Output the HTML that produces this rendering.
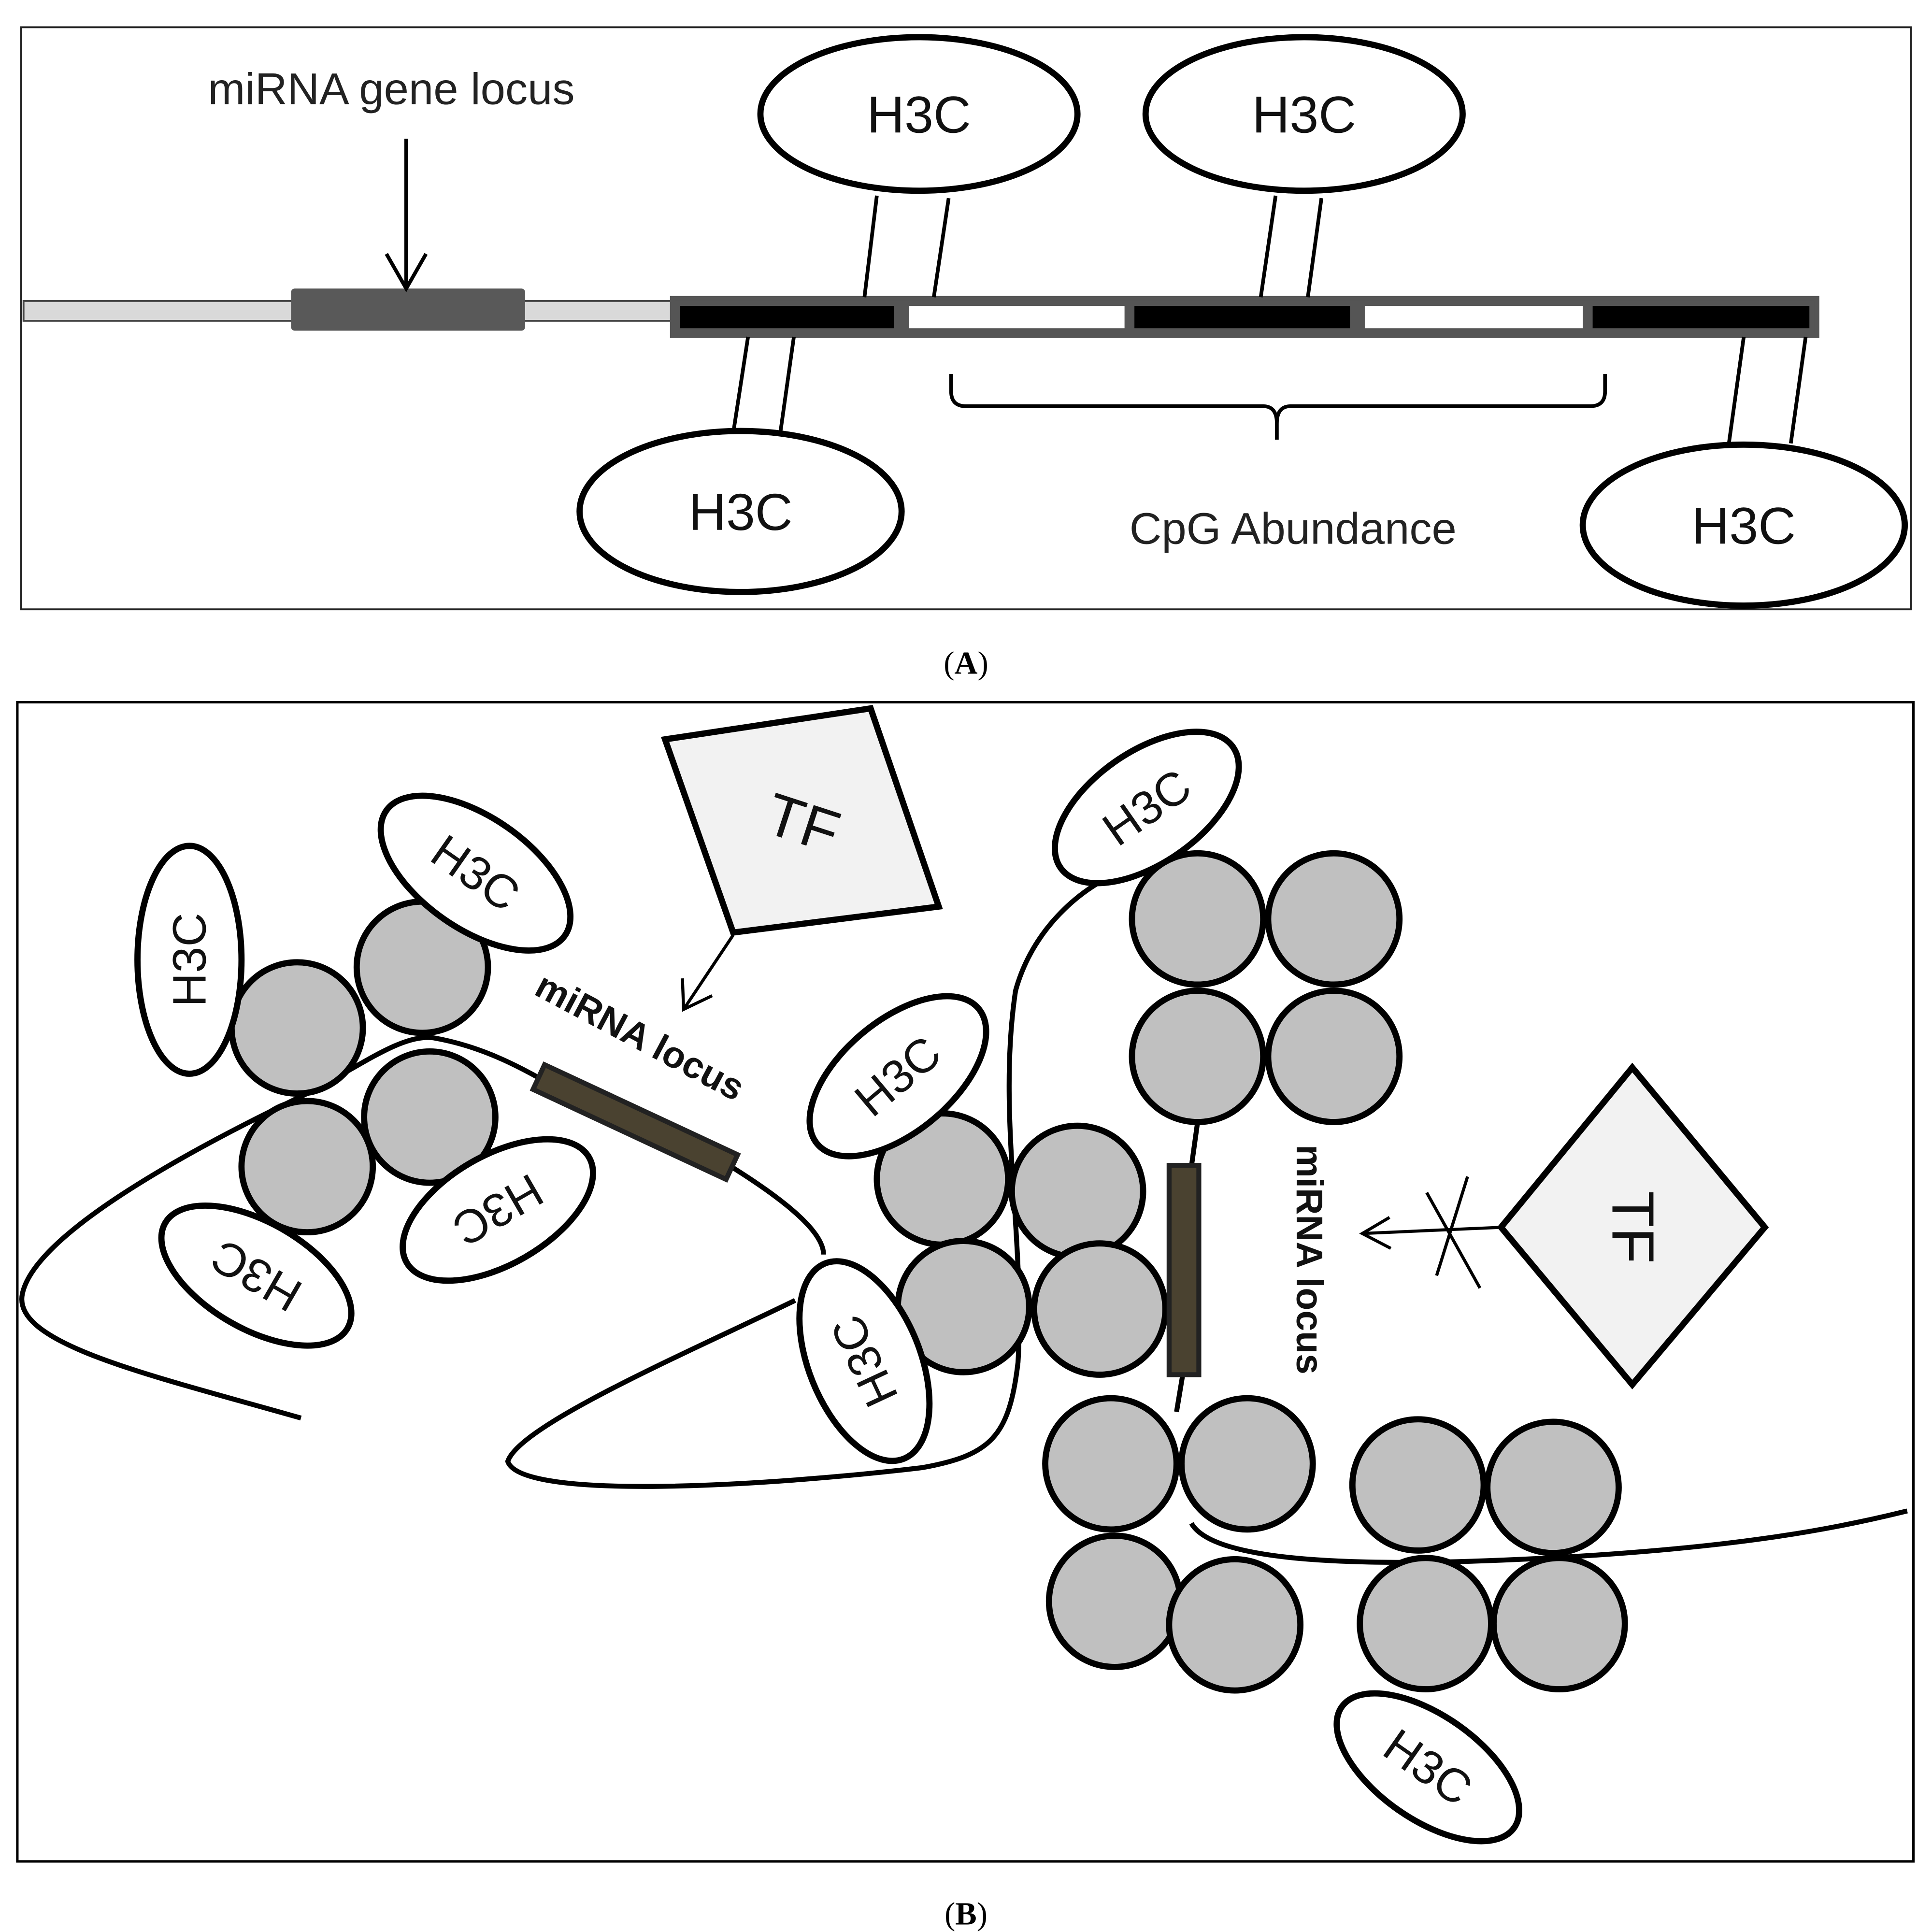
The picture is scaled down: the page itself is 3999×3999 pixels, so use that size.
<!DOCTYPE html>
<html><head><meta charset="utf-8"><style>
html,body{margin:0;padding:0;background:#fff;}
svg{display:block;}
text{font-family:"Liberation Sans",sans-serif;}
</style></head><body>
<svg width="3999" height="3999" viewBox="0 0 1560 1560" xmlns="http://www.w3.org/2000/svg">
<rect width="1560" height="1560" fill="#fff"/>
<!-- Panel A -->
<rect x="17" y="22" width="1526" height="470" fill="none" stroke="#222" stroke-width="1.5"/>
<rect x="19" y="243" width="526" height="16" fill="#d9d9d9" stroke="#444" stroke-width="1.5"/>
<rect x="235" y="233" width="189" height="34" rx="3" fill="#595959"/>
<line x1="328" y1="112" x2="328" y2="232" stroke="#000" stroke-width="3"/>
<polyline points="312,205 328,233 344,205" fill="none" stroke="#000" stroke-width="3"/>
<text x="316" y="84" font-size="36" text-anchor="middle" fill="#222">miRNA gene locus</text>
<rect x="543" y="241" width="924" height="30" fill="#555" stroke="#555" stroke-width="4"/>
<rect x="549" y="247" width="173" height="18" fill="#000"/>
<rect x="734" y="247" width="174" height="18" fill="#fff"/>
<rect x="916" y="247" width="174" height="18" fill="#000"/>
<rect x="1102" y="247" width="176" height="18" fill="#fff"/>
<rect x="1286" y="247" width="175" height="18" fill="#000"/>
<g stroke="#000" stroke-width="3">
<line x1="708" y1="158" x2="698" y2="240"/><line x1="766" y1="160" x2="754" y2="240"/>
<line x1="1030" y1="158" x2="1018" y2="240"/><line x1="1067" y1="160" x2="1056" y2="240"/>
<line x1="604" y1="272" x2="592" y2="350"/><line x1="641" y1="272" x2="630" y2="350"/>
<line x1="1408" y1="272" x2="1396" y2="358"/><line x1="1458" y1="272" x2="1446" y2="358"/>
</g>
<g fill="#fff" stroke="#000" stroke-width="5">
<ellipse cx="742" cy="92" rx="128" ry="62"/>
<ellipse cx="1053" cy="92" rx="128" ry="62"/>
<ellipse cx="598" cy="413" rx="130" ry="65"/>
<ellipse cx="1408" cy="424" rx="130" ry="65"/>
</g>
<g font-size="42" text-anchor="middle" fill="#111">
<text x="742" y="107">H3C</text><text x="1053" y="107">H3C</text>
<text x="598" y="428">H3C</text><text x="1408" y="439">H3C</text>
</g>
<path d="M768,302 V316 Q768,328 780,328 H1020 Q1031,328 1031,342 V355 M1031,342 Q1031,328 1042,328 H1284 Q1296,328 1296,316 V302" fill="none" stroke="#000" stroke-width="3"/>
<text x="1044" y="439" font-size="36" text-anchor="middle" fill="#222">CpG Abundance</text>
<text x="780" y="544" font-size="26" text-anchor="middle" style="font-family:'Liberation Serif',serif">(<tspan font-weight="bold">A</tspan>)</text>

<!-- Panel B -->
<rect x="14" y="567" width="1531" height="936" fill="none" stroke="#000" stroke-width="2"/>
<text x="780" y="1554" font-size="26" text-anchor="middle" style="font-family:'Liberation Serif',serif">(<tspan font-weight="bold">B</tspan>)</text>
<g fill="none" stroke="#000" stroke-width="4">
<path d="M243,1145 C120,1110 10,1085 18,1045 C28,995 160,925 250,882 C295,858 325,835 350,838 C390,845 420,862 440,873"/>
<path d="M592,943 C635,970 665,995 665,1013"/>
<path d="M642,1050 C560,1090 420,1150 410,1180 C420,1212 620,1200 745,1185 C800,1175 815,1160 822,1100 C828,1000 805,900 820,800 C835,745 880,712 910,702"/>
<path d="M967,906 L962,942 M955,1110 L950,1140"/>
<path d="M962,1230 C980,1262 1100,1266 1250,1258 C1400,1250 1480,1235 1540,1220"/>
</g>
<g fill="#c0c0c0" stroke="#000" stroke-width="5">
<circle cx="341" cy="781" r="53"/><circle cx="240" cy="830" r="53"/><circle cx="347" cy="902" r="53"/><circle cx="248" cy="942" r="53"/>
<circle cx="967" cy="742" r="53"/><circle cx="1077" cy="742" r="53"/><circle cx="967" cy="853" r="53"/><circle cx="1077" cy="853" r="53"/>
<circle cx="761" cy="952" r="53"/><circle cx="870" cy="962" r="53"/><circle cx="778" cy="1055" r="53"/><circle cx="888" cy="1057" r="53"/>
<circle cx="897" cy="1182" r="53"/><circle cx="1007" cy="1182" r="53"/><circle cx="900" cy="1293" r="53"/><circle cx="997" cy="1312" r="53"/>
<circle cx="1145" cy="1199" r="53"/><circle cx="1254" cy="1201" r="53"/><circle cx="1151" cy="1311" r="53"/><circle cx="1259" cy="1311" r="53"/>
</g>
<g fill="#fff" stroke="#000" stroke-width="5">
<ellipse cx="153" cy="775" rx="42" ry="92"/>
<ellipse transform="rotate(35 384 705)" cx="384" cy="705" rx="88" ry="45"/>
<ellipse transform="rotate(-30 402 977)" cx="402" cy="977" rx="85" ry="44"/>
<ellipse transform="rotate(30 207 1030)" cx="207" cy="1030" rx="85" ry="43"/>
<ellipse transform="rotate(-35 926 652)" cx="926" cy="652" rx="85" ry="45"/>
<ellipse transform="rotate(-40 725 869)" cx="725" cy="869" rx="85" ry="45"/>
<ellipse transform="rotate(-22 698 1099)" cx="698" cy="1099" rx="45" ry="85"/>
<ellipse transform="rotate(35 1153 1427)" cx="1153" cy="1427" rx="85" ry="42"/>
</g>
<g font-size="38" text-anchor="middle" fill="#111">
<text transform="translate(153,775) rotate(-90)" y="13">H3C</text>
<text transform="translate(384,705) rotate(35)" y="13">H3C</text>
<text transform="translate(402,977) rotate(150)" y="13">H3C</text>
<text transform="translate(207,1030) rotate(210)" y="13">H3C</text>
<text transform="translate(926,652) rotate(-35)" y="13">H3C</text>
<text transform="translate(725,869) rotate(-40)" y="13">H3C</text>
<text transform="translate(698,1099) rotate(-115)" y="13">H3C</text>
<text transform="translate(1153,1427) rotate(35)" y="13">H3C</text>
</g>
<!-- miRNA locus bars -->
<rect transform="translate(513,906) rotate(25)" x="-86" y="-11" width="172" height="22" fill="#4a4230" stroke="#222" stroke-width="4"/>
<rect x="944" y="941" width="24" height="169" fill="#4a4230" stroke="#222" stroke-width="4"/>
<text transform="translate(512,846) rotate(28)" font-size="30" font-weight="bold" text-anchor="middle" fill="#111">miRNA locus</text>
<text transform="translate(1057,1017) rotate(90)" font-size="30" font-weight="bold" text-anchor="middle" y="10" fill="#111">miRNA locus</text>
<!-- TF shapes -->
<polygon points="537,597 703,572 758,732 592,753" fill="#f2f2f2" stroke="#000" stroke-width="5"/>
<text transform="translate(648,665) rotate(18)" font-size="48" text-anchor="middle" y="16" fill="#111">TF</text>
<polygon points="1318,862 1425,991 1318,1118 1212,991" fill="#f2f2f2" stroke="#000" stroke-width="5"/>
<text transform="translate(1318,991) rotate(90)" font-size="48" text-anchor="middle" y="16" fill="#111">TF</text>
<g fill="none" stroke="#000" stroke-width="2.5">
<line x1="592" y1="755" x2="552" y2="815"/>
<polyline points="551,790 552,815 575,804"/>
<line x1="1212" y1="991" x2="1100" y2="996"/>
<polyline points="1122,983 1100,996 1123,1008"/>
<line x1="1152" y1="963" x2="1195" y2="1040"/>
<line x1="1185" y1="950" x2="1160" y2="1030"/>
</g>
</svg>
</body></html>
